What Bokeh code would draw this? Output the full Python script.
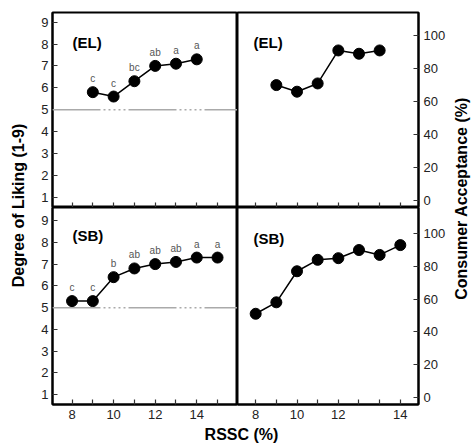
from bokeh.plotting import figure
from bokeh.models import Range1d, FixedTicker, LinearAxis, Span, Label, ColumnDataSource
from bokeh.layouts import row, column
from bokeh.embed import file_html
from bokeh.resources import INLINE
from bokeh.core.properties import value
import math

# ---- data ----
rssc_el = [9, 10, 11, 12, 13, 14]
liking_el = [5.8, 5.6, 6.3, 7.0, 7.1, 7.3]
letters_el = ["c", "c", "bc", "ab", "a", "a"]
accept_el = [70, 66, 71, 91, 89, 91]

rssc_sb = [8, 9, 10, 11, 12, 13, 14, 15]
liking_sb = [5.3, 5.3, 6.4, 6.8, 7.0, 7.1, 7.3, 7.3]
letters_sb = ["c", "c", "b", "ab", "ab", "ab", "a", "a"]
accept_sb = [51, 58, 77, 84, 85, 90, 87, 93]

x_ticks = [8, 9, 10, 11, 12, 13, 14, 15]
left_x_labels = ["8", "", "10", "", "12", "", "14", ""]
right_x_labels = ["8", "", "10", "", "12", "", "", "14"]
liking_ticks = [1, 2, 3, 4, 5, 6, 7, 8, 9]
accept_ticks = [0, 20, 40, 60, 80, 100]
neutral_score = 5

FONT = "Liberation Sans"
TICK_COLOR = "#222222"


def make_fig(width, height, xr, yr, left=0, right=0, top=0, bottom=0):
    p = figure(width=width, height=height, x_range=Range1d(*xr), y_range=Range1d(*yr),
               output_backend="svg", toolbar_location=None,
               x_axis_location=None, y_axis_location=None,
               min_border_left=left, min_border_right=right,
               min_border_top=top, min_border_bottom=bottom)
    p.xgrid.visible = False
    p.ygrid.visible = False
    p.outline_line_color = "black"
    p.outline_line_width = 2
    p.background_fill_color = "white"
    p.border_fill_color = "white"
    return p


def style_axis(ax, ticks, labels=None, show_labels=True, standoff=4):
    ax.ticker = FixedTicker(ticks=ticks)
    ax.major_tick_in = 5
    ax.major_tick_out = 0
    ax.minor_tick_line_color = None
    ax.major_tick_line_color = "#333333"
    ax.major_tick_line_width = 1.2
    ax.axis_line_color = "black"
    ax.axis_line_width = 2
    if show_labels:
        ax.major_label_text_font = FONT
        ax.major_label_text_font_size = "13px"
        ax.major_label_text_color = TICK_COLOR
        ax.major_label_standoff = standoff
        if labels is not None:
            ax.major_label_overrides = {t: l for t, l in zip(ticks, labels)}
    else:
        ax.major_label_text_font_size = "0px"
        ax.major_label_standoff = 0
        ax.major_label_overrides = {t: "" for t in ticks}


def add_series(p, xs, ys, letters=None):
    src = ColumnDataSource(dict(x=xs, y=ys, t=letters if letters else [""] * len(xs)))
    p.line("x", "y", source=src, line_color="black", line_width=1.5)
    p.scatter("x", "y", source=src, size=11, fill_color="black", line_color="black")
    if letters:
        p.text("x", "y", text="t", source=src, y_offset=-8, text_align="center",
               text_baseline="bottom", text_font=value(FONT), text_font_size="10px",
               text_color="#555555")


def panel_label(p, text, x, y):
    p.add_layout(Label(x=x, y=y, x_units="screen", y_units="screen", text=text,
                       text_font=FONT, text_font_size="15px", text_font_style="bold",
                       text_align="left", text_baseline="middle", text_color="black"))


def dashed_ref(p):
    p.add_layout(Span(location=neutral_score, dimension="width", line_color="#aaaaaa",
                      line_width=1.5, line_dash="48 3 2 3 2 3 2 3 2 3 2 3"))


LX = (7.06, 15.96)
RX = (7.12, 15.88)

# top-left: EL liking
tl = make_fig(207, 207, LX, (0.53, 9.44), left=22, top=12)
ya = LinearAxis(); style_axis(ya, liking_ticks); tl.add_layout(ya, "left")
xa = LinearAxis(); style_axis(xa, x_ticks, show_labels=False); tl.add_layout(xa, "below")
dashed_ref(tl)
add_series(tl, rssc_el, liking_el, letters_el)
panel_label(tl, "(EL)", 20, 165)

# top-right: EL acceptance
tr = make_fig(211, 207, RX, (-4.2, 114), right=28, top=12)
ya = LinearAxis(); style_axis(ya, accept_ticks, standoff=5); tr.add_layout(ya, "right")
xa = LinearAxis(); style_axis(xa, x_ticks, show_labels=False); tr.add_layout(xa, "below")
add_series(tr, rssc_el, accept_el)
panel_label(tr, "(EL)", 16, 165)

# bottom-left: SB liking
bl = make_fig(207, 219, LX, (0.55, 9.6), left=22, bottom=22)
ya = LinearAxis(); style_axis(ya, liking_ticks); bl.add_layout(ya, "left")
xa = LinearAxis(); style_axis(xa, x_ticks, left_x_labels, standoff=5); bl.add_layout(xa, "below")
dashed_ref(bl)
add_series(bl, rssc_sb, liking_sb, letters_sb)
panel_label(bl, "(SB)", 20, 169)

# bottom-right: SB acceptance
br = make_fig(211, 219, RX, (-4.5, 116), right=28, bottom=22)
ya = LinearAxis(); style_axis(ya, accept_ticks, standoff=5); br.add_layout(ya, "right")
xa = LinearAxis(); style_axis(xa, x_ticks, right_x_labels, standoff=5); br.add_layout(xa, "below")
add_series(br, rssc_sb, accept_sb)
panel_label(br, "(SB)", 16, 166)


def text_fig(width, height, text, x, y, angle=0.0):
    p = figure(width=width, height=height, x_range=Range1d(0, 1), y_range=Range1d(0, 1),
               output_backend="svg", toolbar_location=None,
               x_axis_location=None, y_axis_location=None,
               min_border=0)
    p.xgrid.visible = False
    p.ygrid.visible = False
    p.outline_line_color = None
    p.add_layout(Label(x=x, y=y, x_units="screen", y_units="screen", text=text, angle=angle,
                       text_font=FONT, text_font_size="16px", text_font_style="bold",
                       text_align="center", text_baseline="middle", text_color="black"))
    return p


left_lbl = text_fig(30, 426, "Degree of Liking (1-9)", 18, 221, math.pi / 2)
right_lbl = text_fig(23, 426, "Consumer Acceptance (%)", 13, 228, math.pi / 2)
bottom_lbl = text_fig(471, 19, "RSSC (%)", 241, 11)

grid = column(row(tl, tr), row(bl, br))
layout = column(row(left_lbl, grid, right_lbl), bottom_lbl)

open("out.html", "w").write(file_html(layout, INLINE))
